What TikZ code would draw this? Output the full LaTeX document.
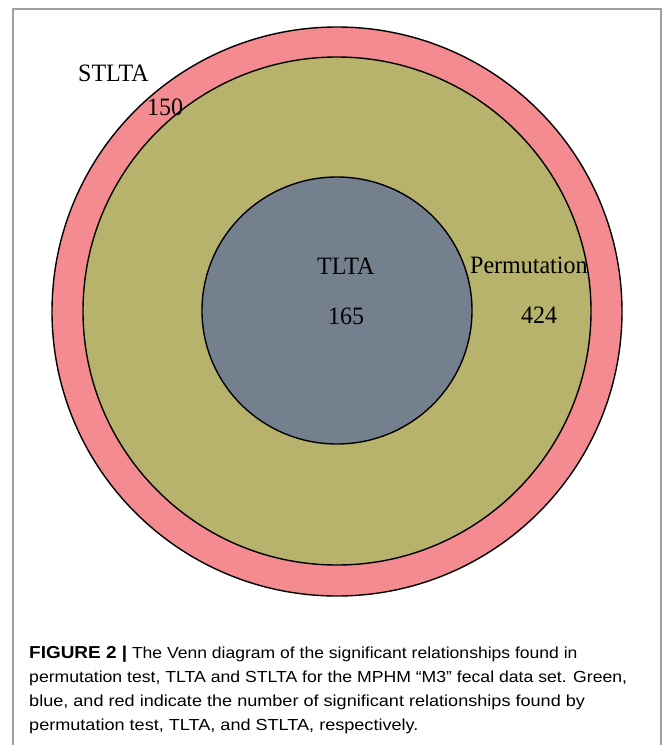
\documentclass[tikz,border=0pt]{standalone}
\usepackage{fontspec}
\setmainfont{Liberation Serif}
\newfontfamily\capfont{Liberation Sans}
\usetikzlibrary{shapes.geometric}
\definecolor{ringred}{RGB}{243,139,144}
\definecolor{olive}{RGB}{183,178,108}
\definecolor{slate}{RGB}{117,128,142}
\definecolor{framegray}{RGB}{160,160,160}
\begin{document}
\begin{tikzpicture}[x=1pt,y=-1pt,
  setc/.style={ellipse, draw=black, line width=1.4pt, inner sep=0pt},
  lbl/.style={anchor=base west, inner sep=0pt, font=\fontsize{25}{28}\selectfont, xscale=0.96},
  captxt/.style={anchor=base west, inner sep=0pt, font=\capfont\fontsize{16}{18}\selectfont, xscale=1.13}]
\useasboundingbox (0,0) rectangle (665,745);
\fill[white] (0,0) rectangle (665,745);
% frame
\coordinate (f1) at (13,745);
\coordinate (f2) at (13,9);
\coordinate (f3) at (661,9);
\coordinate (f4) at (661,745);
\draw[framegray, line width=1.5pt] (f1) -- (f2) -- (f3) -- (f4);
% sets
\node[setc, fill=ringred, minimum width=570pt, minimum height=569pt] (stlta) at (337,311.5) {};
\node[setc, fill=olive, minimum width=508pt, minimum height=508pt] (perm) at (337,311) {};
\node[setc, fill=slate, minimum width=270pt, minimum height=267pt] (tlta) at (337,310.5) {};
% labels
\node[lbl] (lstlta) at (78,81) {STLTA};
\node[lbl] (n150) at (147,115) {150};
\node[lbl] (ltlta) at (317,274) {TLTA};
\node[lbl] (n165) at (328,324) {165};
\node[lbl] (lperm) at (470,273) {Permutation};
\node[lbl] (n424) at (521,323) {424};
% caption
\node[captxt, xscale=0.97] (c1) at (29,658) {\scalebox{1.08}{\textbf{FIGURE 2 |}} The Venn diagram of the significant relationships found in};
\node[captxt, xscale=0.975] (c2) at (29,682) {permutation test, TLTA and STLTA for the MPHM “M3” fecal data set. Green,};
\node[captxt] (c3) at (29,706) {blue, and red indicate the number of significant relationships found by};
\node[captxt] (c4) at (29,730) {permutation test, TLTA, and STLTA, respectively.};
\end{tikzpicture}
\end{document}
